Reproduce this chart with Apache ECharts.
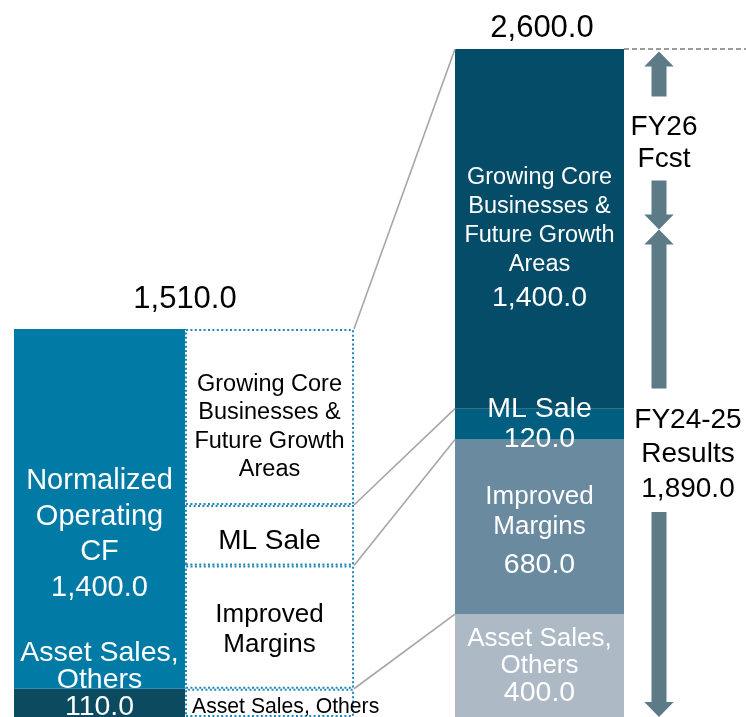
<!DOCTYPE html>
<html>
<head>
<meta charset="utf-8">
<title>Cash allocation</title>
<script src="https://cdn.jsdelivr.net/npm/echarts@6/dist/echarts.min.js"></script>
<style>
  html, body { margin: 0; padding: 0; background: #ffffff; }
  #chart { width: 746px; height: 717px; }
</style>
</head>
<body>
<div id="chart"></div>
<script>
// ---- data ----
const periods = ['FY24-26'];

// Cash sources (left column, bottom to top)
const sourceNames = ['Asset Sales,\nOthers', 'Normalized\nOperating\nCF'];
const sourceValues = [110, 1400];

// Breakdown column next to the sources (bottom to top)
const useNames = ['Asset Sales, Others', 'Improved\nMargins', 'ML Sale', 'Growing Core\nBusinesses &\nFuture Growth\nAreas'];
const useValues = [110, 480, 235, 685];

// Plan column (bottom to top)
const planNames = ['Asset Sales,\nOthers', 'Improved\nMargins', 'ML Sale', 'Growing Core\nBusinesses &\nFuture Growth\nAreas'];
const planValues = [400, 680, 120, 1400];

// Split of the plan total into results and forecast
const resultsValue = 1890;
const phaseNames = ['FY26\nFcst', 'FY24-25\nResults'];

// ---- styling ----
const FONT = "'Liberation Sans', Arial, Helvetica, sans-serif";
const sourceColors = ['#0b4a5f', '#017aa6'];
const planColors = ['#adb9c5', '#6a8aa0', '#005f81', '#044c67'];
const DOT_BLUE = '#2189b8';
const ARROW = '#5d7b87';
const LINK = '#a6a6a6';

// column widths in pixels (source, breakdown, spacer, plan)
const W_SRC = 171, W_SPLIT = 169, W_GAP = 101, W_PLAN = 169;
const TOTAL_W = W_SRC + W_SPLIT + W_GAP + W_PLAN;

const fmt = v => v.toLocaleString('en-US', { minimumFractionDigits: 1, maximumFractionDigits: 1 });
const sum = a => a.reduce((s, v) => s + v, 0);
const cumulative = a => { let s = 0; return a.map(v => (s += v)); };

const sourceLabelStyle = [
  { offset: [0, -22.5], fontSize: 28.5, lineHeight: 27 },
  { offset: [0, 25.5], fontSize: 29, lineHeight: 35.5 }
];
const useLabelStyle = [
  { position: 'insideLeft', distance: 7, offset: [0, 4.5], fontSize: 21.2, lineHeight: 22 },
  { position: 'inside', offset: [0, 2.5], fontSize: 26, lineHeight: 30 },
  { position: 'inside', offset: [0, 6], fontSize: 28, lineHeight: 30 },
  { position: 'inside', offset: [0, 10], fontSize: 23.5, lineHeight: 28.5 }
];
const planLabelStyle = [
  { offset: [0, 0.5], n: { fontSize: 26, lineHeight: 27 }, v: { fontSize: 28.5, lineHeight: 27 } },
  { offset: [0, 8], n: { fontSize: 26, lineHeight: 30 }, v: { fontSize: 28.5, lineHeight: 46 } },
  { offset: [0, 0], n: { fontSize: 28.5, lineHeight: 30 }, v: { fontSize: 28.5, lineHeight: 30 } },
  { offset: [0, 11], n: { fontSize: 23.5, lineHeight: 29 }, v: { fontSize: 28.5, lineHeight: 37 } }
];

const series = [];

// source column
sourceValues.forEach((v, i) => {
  const st = sourceLabelStyle[i];
  series.push({
    type: 'bar', name: sourceNames[i].replace(/\n/g, ' '), stack: 'source',
    barWidth: W_SRC, barGap: '0%', data: [v],
    itemStyle: { color: sourceColors[i] },
    label: {
      show: true, position: 'inside', offset: st.offset,
      color: '#ffffff', fontFamily: FONT, fontSize: st.fontSize, lineHeight: st.lineHeight,
      formatter: sourceNames[i] + '\n' + fmt(v)
    }
  });
});

// breakdown column with dotted outlines
useValues.forEach((v, i) => {
  const st = useLabelStyle[i];
  series.push({
    type: 'bar', name: 'split-' + i, stack: 'split',
    barWidth: W_SPLIT, barGap: '0%', data: [v],
    itemStyle: { color: '#ffffff', borderColor: DOT_BLUE, borderWidth: 2, borderType: [2, 2.4] },
    label: {
      show: true, position: st.position, distance: st.distance, offset: st.offset,
      color: '#000000', fontFamily: FONT, fontSize: st.fontSize, lineHeight: st.lineHeight,
      formatter: useNames[i]
    }
  });
});

// empty column that keeps the space for the connectors
series.push({
  type: 'bar', name: 'spacer', stack: 'spacer', barWidth: W_GAP, barGap: '0%',
  data: [0], itemStyle: { color: 'rgba(0,0,0,0)' }, silent: true
});

// plan column
planValues.forEach((v, i) => {
  const st = planLabelStyle[i];
  const text = planNames[i].split('\n').map(s => '{n|' + s + '}').join('\n') + '\n{v|' + fmt(v) + '}';
  series.push({
    type: 'bar', name: planNames[i].replace(/\n/g, ' '), stack: 'plan',
    barWidth: W_PLAN, barGap: '0%', data: [v],
    itemStyle: { color: planColors[i] },
    label: {
      show: true, position: 'inside', offset: st.offset,
      color: '#ffffff', fontFamily: FONT, formatter: text,
      rich: {
        n: { color: '#ffffff', fontFamily: FONT, fontSize: st.n.fontSize, lineHeight: st.n.lineHeight },
        v: { color: '#ffffff', fontFamily: FONT, fontSize: st.v.fontSize, lineHeight: st.v.lineHeight }
      }
    }
  });
});

// arrow piece: head at tipY, shaft running to endY (dir -1 = pointing up, +1 = pointing down)
function arrowPiece(ax, tipY, endY, dir) {
  const hw = 14.7, sw = 7.5, hh = 15;
  const baseY = tipY - dir * hh;
  return {
    type: 'polygon',
    shape: { points: [
      [ax, tipY], [ax + hw, baseY], [ax + sw, baseY], [ax + sw, endY],
      [ax - sw, endY], [ax - sw, baseY], [ax - hw, baseY]
    ] },
    style: { fill: ARROW }
  };
}

// connectors, totals, dashed target line and period arrows
series.push({
  type: 'custom', coordinateSystem: 'cartesian2d', clip: false, silent: true, z: 10,
  data: [[0, 0]],
  renderItem: function (params, api) {
    const c0 = api.coord([0, 0]);
    const cx = c0[0];
    const yOf = v => api.coord([0, v])[1];
    const L = cx - TOTAL_W / 2;
    const splitLeft = L + W_SRC;
    const splitRight = splitLeft + W_SPLIT;
    const planLeft = splitRight + W_GAP;
    const planRight = planLeft + W_PLAN;
    const useTops = cumulative(useValues);
    const planTops = cumulative(planValues);
    const planTotal = sum(planValues);
    const sourceTotal = sum(sourceValues);
    const children = [];

    useTops.forEach((t, i) => {
      children.push({
        type: 'line',
        shape: { x1: splitRight, y1: yOf(t), x2: planLeft, y2: yOf(planTops[i]) },
        style: { stroke: LINK, lineWidth: 1.6 }
      });
    });

    children.push({
      type: 'line',
      shape: { x1: planRight, y1: yOf(planTotal), x2: api.getWidth(), y2: yOf(planTotal) },
      style: { stroke: '#3a3a3a', lineWidth: 1.2, lineDash: [5, 3] }
    });

    children.push({
      type: 'text',
      style: { text: fmt(sourceTotal), x: L + (W_SRC + W_SPLIT) / 2 + 1, y: yOf(sourceTotal) - 30,
        align: 'center', verticalAlign: 'middle', fill: '#000000', fontSize: 31, fontFamily: FONT }
    });
    children.push({
      type: 'text',
      style: { text: fmt(planTotal), x: planLeft + W_PLAN / 2 + 2.5, y: yOf(planTotal) - 21,
        align: 'center', verticalAlign: 'middle', fill: '#000000', fontSize: 31, fontFamily: FONT }
    });

    const ax = planRight + 35;
    const meet = yOf(resultsValue) - 2;

    // forecast arrow (plan total down to results)
    const fTop = yOf(planTotal) + 2.5;
    const fLh = 32, fLines = phaseNames[0].split('\n').length;
    const fMid = (fTop + meet) / 2;
    const fGap = fLh * fLines / 2 + 10;
    children.push(arrowPiece(ax, fTop, fMid - fGap - 2, -1));
    children.push(arrowPiece(ax, meet, fMid + fGap - 2, 1));
    children.push({
      type: 'text',
      style: { text: phaseNames[0], x: ax + 5, y: fMid + 3, align: 'center', verticalAlign: 'middle',
        fill: '#000000', fontSize: 28, lineHeight: fLh, fontFamily: FONT }
    });

    // results arrow (results down to zero)
    const rBottom = yOf(0);
    const rText = phaseNames[1] + '\n' + fmt(resultsValue);
    const rLh = 34.5, rLines = rText.split('\n').length;
    const rMid = meet + (rBottom - meet) * 0.453;
    const rGap = rLh * rLines / 2 + 10;
    children.push(arrowPiece(ax, meet, rMid - rGap, -1));
    children.push(arrowPiece(ax, rBottom, rMid + rGap, 1));
    children.push({
      type: 'text',
      style: { text: rText, x: ax + 29, y: rMid + 4, align: 'center', verticalAlign: 'middle',
        fill: '#000000', fontSize: 28, lineHeight: rLh, fontFamily: FONT }
    });

    return { type: 'group', children: children };
  }
});

const chart = echarts.init(document.getElementById('chart'), null, { renderer: 'canvas' });
chart.setOption({
  animation: false,
  backgroundColor: '#ffffff',
  grid: { left: 14, top: 49, width: TOTAL_W, height: 672, containLabel: false },
  xAxis: {
    type: 'category', data: periods, show: false,
    axisLine: { show: false }, axisTick: { show: false }, axisLabel: { show: false }
  },
  yAxis: {
    type: 'value', min: 0, max: sum(planValues), show: false,
    splitLine: { show: false }
  },
  series: series
});
</script>
</body>
</html>
